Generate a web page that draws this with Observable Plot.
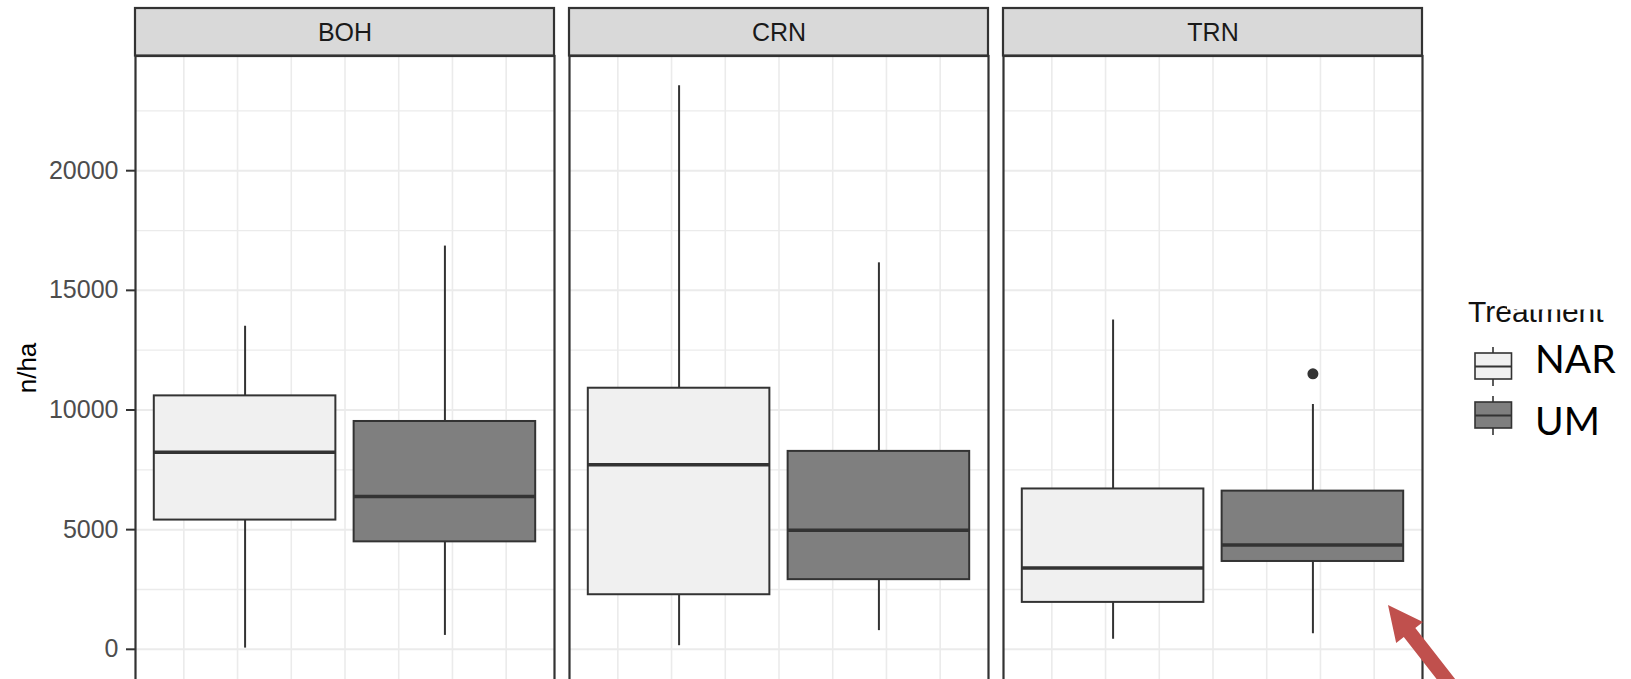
<!DOCTYPE html>
<html>
<head>
<meta charset="utf-8">
<script src="https://cdn.jsdelivr.net/npm/d3@7"></script>
<script src="https://cdn.jsdelivr.net/npm/@observablehq/plot@0.6"></script>
<style>
  html, body { margin: 0; padding: 0; overflow: hidden; background: #fff; width: 1631px; height: 679px; }
  #wrap { position: relative; width: 1631px; height: 679px; overflow: hidden; }
  #chart { position: absolute; left: 0; top: 0; }
</style>
</head>
<body>
<div id="wrap"><div id="chart"></div></div>
<script>
// ---------------- data ----------------
const sites = ["BOH", "CRN", "TRN"];
const treatments = ["NAR", "UM"];
const treatmentFills = ["#f0f0f0", "#7f7f7f"];
// one entry per box, ordered site x treatment
const boxSite = ["BOH", "BOH", "CRN", "CRN", "TRN", "TRN"];
const boxTreatment = ["NAR", "UM", "NAR", "UM", "NAR", "UM"];
const whiskerLow = [50, 580, 150, 780, 420, 650];
const lowerQuartile = [5400, 4490, 2280, 2910, 1960, 3670];
const medianValue = [8230, 6390, 7710, 4980, 3400, 4360];
const upperQuartile = [10590, 9520, 10910, 8270, 6700, 6610];
const whiskerHigh = [13500, 16850, 23550, 16150, 13760, 10230];
const outlierSite = ["TRN"];
const outlierTreatment = ["UM"];
const outlierValue = [11510];
const yTicks = [0, 5000, 10000, 15000, 20000];
const yMinorTicks = [2500, 7500, 12500, 17500, 22500];
const xGrid = [-3, -2, -1, 0, 1, 2, 3];
const yLabel = "n/ha";
const legendTitle = "Treatment";

// ---------------- tables ----------------
const boxes = boxSite.map((s, i) => ({
  site: s, treatment: boxTreatment[i],
  lo: whiskerLow[i], q1: lowerQuartile[i], med: medianValue[i],
  q3: upperQuartile[i], hi: whiskerHigh[i]
}));
const outliers = outlierSite.map((s, i) => ({site: s, treatment: outlierTreatment[i], value: outlierValue[i]}));

// ---------------- layout ----------------
const W = 1631, H = 700;
const marginLeft = 134, marginTop = 55.5, panelsRight = 1423;
const zeroPx = 648.8, p20000 = 170.2;
const pxPerUnit = (zeroPx - p20000) / 20000;
const yMax = (zeroPx - marginTop) / pxPerUnit;
const yMin = -(H - zeroPx) / pxPerUnit;
const dodge = t => (t === treatments[0] ? -1 : 1) * 1.86;
const half = 1.69;
const dark = "#333333";
const font = "'Liberation Sans', Arial, sans-serif";

const chart = Plot.plot({
  width: W, height: H,
  marginLeft, marginTop, marginRight: W - panelsRight, marginBottom: 0,
  style: {fontFamily: font, background: "white"},
  fx: {domain: sites, paddingInner: 15 / 434.6, paddingOuter: 0, axis: null},
  x: {domain: [-3.9, 3.9], axis: null},
  y: {domain: [yMin, yMax]},
  color: {domain: treatments, range: treatmentFills},
  marks: [
    Plot.ruleY(yMinorTicks, {stroke: "#ebebeb", strokeWidth: 1.3}),
    Plot.ruleY(yTicks, {stroke: "#ebebeb", strokeWidth: 2}),
    Plot.ruleX(xGrid, {stroke: "#ebebeb", strokeWidth: 1.6}),
    Plot.ruleX(boxes, {fx: "site", x: d => dodge(d.treatment), y1: "q3", y2: "hi", stroke: dark, strokeWidth: 2}),
    Plot.ruleX(boxes, {fx: "site", x: d => dodge(d.treatment), y1: "lo", y2: "q1", stroke: dark, strokeWidth: 2}),
    Plot.rect(boxes, {fx: "site", x1: d => dodge(d.treatment) - half, x2: d => dodge(d.treatment) + half,
      y1: "q1", y2: "q3", fill: "treatment", stroke: dark, strokeWidth: 2}),
    Plot.ruleY(boxes, {fx: "site", y: "med", x1: d => dodge(d.treatment) - half, x2: d => dodge(d.treatment) + half,
      stroke: dark, strokeWidth: 3.5}),
    Plot.dot(outliers, {fx: "site", x: d => dodge(d.treatment), y: "value", r: 5.5, fill: dark, stroke: "none"}),
    Plot.frame({stroke: dark, strokeWidth: 2.2}),
    Plot.rect(sites, {fx: d => d, y1: () => yMax, y2: () => yMax, insetTop: -47.5,
      fill: "#d9d9d9", stroke: dark, strokeWidth: 2.2}),
    Plot.text(sites, {fx: d => d, text: d => d, frameAnchor: "top", lineAnchor: "middle", dy: -23.5,
      fontSize: 25, fill: "#1a1a1a"}),
    Plot.axisY(yTicks, {anchor: "left", tickSize: 9, tickPadding: 8, fontSize: 25, tickFormat: d => String(d),
      fill: "#4d4d4d", stroke: dark, strokeWidth: 2, label: null})
  ]
});
document.getElementById("chart").appendChild(chart);

// ---------------- overlay: axis title, legend, annotation arrow ----------------
const ov = d3.select("#wrap").append("svg")
  .attr("width", 1631).attr("height", 679)
  .style("position", "absolute").style("left", 0).style("top", 0)
  .style("pointer-events", "none");

ov.append("text")
  .attr("transform", "translate(35.5,368) rotate(-90)")
  .attr("text-anchor", "middle")
  .style("font-family", font).style("font-size", "26px").attr("fill", "#000")
  .text(yLabel);

ov.append("text")
  .attr("x", 1468).attr("y", 322)
  .style("font-family", font).style("font-size", "30px").attr("fill", "#111")
  .text(legendTitle);
// pasted text box clipping the title
ov.append("rect").attr("x", 1507).attr("y", 290).attr("width", 130).attr("height", 19.5).attr("fill", "#fff");

const keyTop = [353, 402];
const labelBaseline = [373, 435];
treatments.forEach((t, i) => {
  const g = ov.append("g");
  const y0 = keyTop[i];
  g.append("line").attr("x1", 1493).attr("x2", 1493).attr("y1", y0 - 6).attr("y2", y0 + 33)
    .attr("stroke", dark).attr("stroke-width", 1.6);
  g.append("rect").attr("x", 1475).attr("y", y0).attr("width", 36.5).attr("height", 26)
    .attr("fill", treatmentFills[i]).attr("stroke", dark).attr("stroke-width", 1.6);
  g.append("line").attr("x1", 1475).attr("x2", 1511.5).attr("y1", y0 + 13.5).attr("y2", y0 + 13.5)
    .attr("stroke", dark).attr("stroke-width", 2);
  ov.append("text").attr("x", 1535).attr("y", labelBaseline[i])
    .style("font-family", "Lato, 'Open Sans', sans-serif").style("font-size", "39px").attr("fill", "#000")
    .text(t);
});

// red annotation arrow
(function () {
  const tip = [1388, 605], u = [0.616, 0.788], n = [-0.788, 0.616];
  const headLen = 35, headHalf = 17, shaftHalf = 7.3, len = 140;
  const base = [tip[0] + u[0] * headLen, tip[1] + u[1] * headLen];
  const end = [tip[0] + u[0] * len, tip[1] + u[1] * len];
  const pt = (p, k) => [p[0] + n[0] * k, p[1] + n[1] * k];
  const pts = [tip, pt(base, headHalf), pt(base, shaftHalf), pt(end, shaftHalf), pt(end, -shaftHalf), pt(base, -shaftHalf), pt(base, -headHalf)];
  ov.append("polygon").attr("points", pts.map(p => p.join(",")).join(" ")).attr("fill", "#c0504d");
})();
</script>
</body>
</html>
